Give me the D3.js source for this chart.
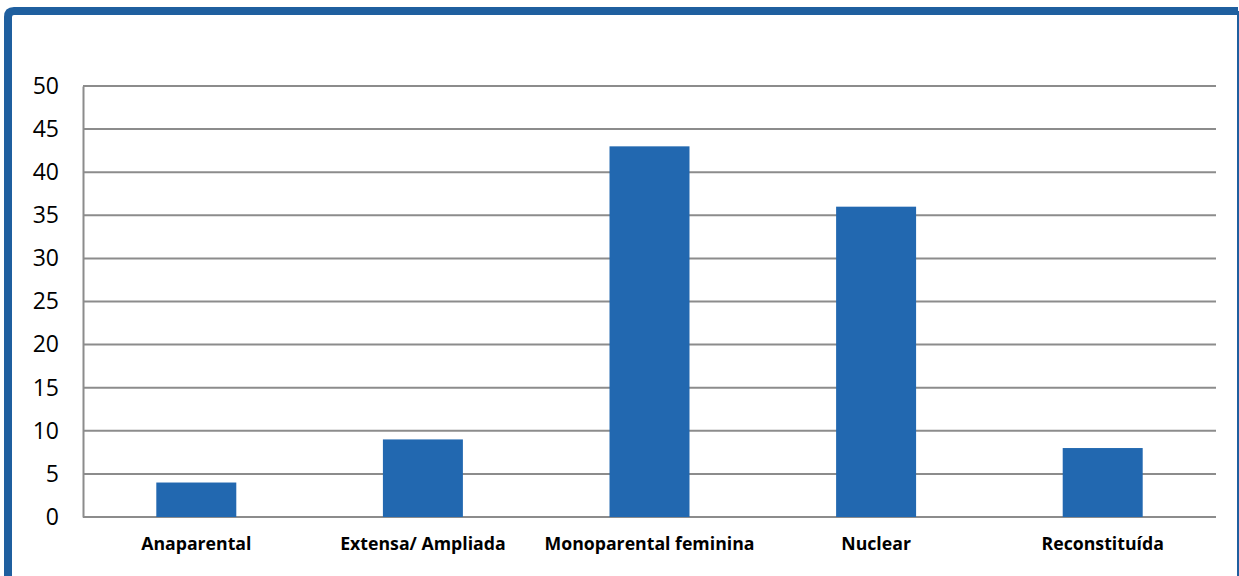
<!DOCTYPE html>
<html>
<head>
<meta charset="utf-8">
<script src="https://cdn.jsdelivr.net/npm/d3@7"></script>
<style>
  body { margin: 0; background: #fff; }
  svg { display: block; }
</style>
</head>
<body>
<div id="chart"></div>
<script>
var svgWidth = 1239;
var svgHeight = 576;

// data
var categories = ["Anaparental", "Extensa/ Ampliada", "Monoparental feminina", "Nuclear", "Reconstituída"];
var values = [4, 9, 43, 36, 8];
var yTicks = [0, 5, 10, 15, 20, 25, 30, 35, 40, 45, 50];

var margin = { top: 86, right: 23, bottom: 59, left: 83 };
var chartWidth = svgWidth - margin.left - margin.right;
var chartHeight = svgHeight - margin.top - margin.bottom;

var svg = d3.select("#chart")
  .append("svg")
  .attr("width", svgWidth)
  .attr("height", svgHeight);

// frame around the chart
svg.append("path")
  .attr("d", "M8,580 L8,17 Q8,11 14,11 L1238,11")
  .attr("fill", "none")
  .attr("stroke", "#1f5f9f")
  .attr("stroke-width", 8);
svg.append("line")
  .attr("x1", 1238).attr("x2", 1238)
  .attr("y1", 11).attr("y2", 576)
  .attr("stroke", "#1f5f9f")
  .attr("stroke-width", 2);

var chartGroup = svg.append("g")
  .attr("transform", `translate(${margin.left}, ${margin.top})`);

var xBandScale = d3.scaleBand()
  .domain(categories)
  .range([0, chartWidth])
  .paddingInner(0.647)
  .paddingOuter(0.3235);

var yLinearScale = d3.scaleLinear()
  .domain([0, 50])
  .range([chartHeight, 0]);

// gridlines
chartGroup.append("g")
  .selectAll("line")
  .data(yTicks)
  .enter()
  .append("line")
  .attr("x1", 0)
  .attr("x2", chartWidth)
  .attr("y1", d => yLinearScale(d))
  .attr("y2", d => yLinearScale(d))
  .attr("stroke", "#8c8c8c")
  .attr("stroke-width", 2);

// y axis
var leftAxis = d3.axisLeft(yLinearScale)
  .tickValues(yTicks)
  .tickSize(0)
  .tickPadding(24);

var yAxis = chartGroup.append("g").call(leftAxis);
yAxis.select(".domain")
  .attr("stroke", "#8c8c8c")
  .attr("stroke-width", 2);
yAxis.selectAll("text")
  .style("font-family", "'Open Sans', sans-serif")
  .style("font-size", "23px")
  .attr("fill", "#000");

// bars
chartGroup.selectAll("rect")
  .data(values)
  .enter()
  .append("rect")
  .attr("x", (d, i) => xBandScale(categories[i]))
  .attr("y", d => yLinearScale(d))
  .attr("width", xBandScale.bandwidth())
  .attr("height", d => chartHeight - yLinearScale(d))
  .attr("fill", "#2268b0");

// x axis labels
var bottomAxis = d3.axisBottom(xBandScale)
  .tickSize(0)
  .tickPadding(20);

var xAxis = chartGroup.append("g")
  .attr("transform", `translate(0, ${chartHeight})`)
  .call(bottomAxis);
xAxis.select(".domain").remove();
xAxis.selectAll("text")
  .style("font-family", "'Open Sans', sans-serif")
  .style("font-size", "17.7px")
  .style("font-weight", "bold")
  .attr("fill", "#000");
</script>
</body>
</html>
